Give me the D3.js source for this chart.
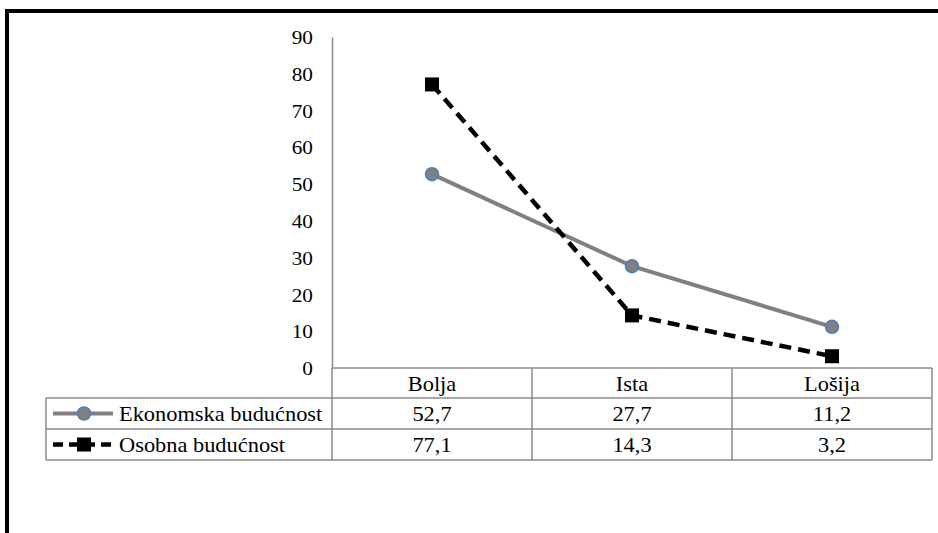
<!DOCTYPE html>
<html><head><meta charset="utf-8">
<script src="https://cdn.jsdelivr.net/npm/d3@7"></script>
<style>html,body{margin:0;padding:0;background:#fff;overflow:hidden}
text{font-family:"Liberation Serif","LiberationSerif","Nimbus Roman","Nimbus Roman No9 L","FreeSerif","Tinos","Times New Roman",Times,"DejaVu Serif","Noto Serif",serif;}</style>
</head><body>
<svg id="c" width="938" height="533"></svg>
<script>
const categories = ["Bolja", "Ista", "Lošija"];
const seriesNames = ["Ekonomska budućnost", "Osobna budućnost"];
const ekonomska = [52.7, 27.7, 11.2];
const osobna = [77.1, 14.3, 3.2];
const valueLabels = [["52,7", "27,7", "11,2"], ["77,1", "14,3", "3,2"]];
const yTicks = [0, 10, 20, 30, 40, 50, 60, 70, 80, 90];

const svg = d3.select("#c");
const gridCol = "#8a8a8a";

// outer frame
svg.append("rect").attr("x", 7).attr("y", 11).attr("width", 1000).attr("height", 600)
  .attr("fill", "none").attr("stroke", "#000").attr("stroke-width", 4);

const x0 = 332, x1 = 932;
const x = d3.scaleBand().domain(categories).range([x0, x1]);
const y = d3.scaleLinear().domain([0, 90]).range([368, 37]);

function stext(g, txt, tx, ty, size, anchor, sx) {
  g.append("text").attr("transform", `translate(${tx},${ty}) scale(${sx},1)`)
    .attr("text-anchor", anchor).attr("dominant-baseline", "central")
    .attr("font-size", size).attr("fill", "#000").text(txt);
}

// y axis
const yAxis = d3.axisLeft(y).tickValues(yTicks).tickSize(0).tickPadding(0);
const ga = svg.append("g").attr("transform", `translate(${x0},0)`).call(yAxis);
ga.select(".domain").attr("stroke", gridCol).attr("stroke-width", 1.5);
ga.selectAll(".tick text").remove();
ga.selectAll(".tick").each(function(d) {
  stext(d3.select(this), String(d), -19, 0, 19, "end", 1.12);
});

// table grid
const rows = [368, 398, 429, 460];
const tleft = 46;
const g = svg.append("g").attr("stroke", gridCol).attr("stroke-width", 1.5).attr("fill", "none");
g.append("line").attr("x1", x0).attr("x2", x1).attr("y1", rows[0]).attr("y2", rows[0]);
[1, 2, 3].forEach(i => g.append("line").attr("x1", tleft).attr("x2", x1).attr("y1", rows[i]).attr("y2", rows[i]));
g.append("line").attr("x1", tleft).attr("x2", tleft).attr("y1", rows[1]).attr("y2", rows[3]);
categories.forEach(c => {
  g.append("line").attr("x1", x(c)).attr("x2", x(c)).attr("y1", rows[0]).attr("y2", rows[3]);
});
g.append("line").attr("x1", x1).attr("x2", x1).attr("y1", rows[0]).attr("y2", rows[3]);

// header labels
categories.forEach(c => stext(svg, c, x(c) + x.bandwidth() / 2, (rows[0] + rows[1]) / 2 + 1, 20, "middle", 1.12));
// values
valueLabels.forEach((r, i) => r.forEach((v, j) =>
  stext(svg, v, x(categories[j]) + x.bandwidth() / 2, (rows[i + 1] + rows[i + 2]) / 2 + 1, 20, "middle", 1.12)));
// legend names
seriesNames.forEach((n, i) => stext(svg, n, 119, (rows[i + 1] + rows[i + 2]) / 2 + 1, 20, "start", 1.12));

const cx = c => x(c) + x.bandwidth() / 2;
const line = d3.line().x((d, i) => cx(categories[i])).y(d => y(d));

// Ekonomska
svg.append("path").datum(ekonomska).attr("d", line).attr("fill", "none")
  .attr("stroke", "#808080").attr("stroke-width", 4);
svg.selectAll(".pe").data(ekonomska).enter().append("circle")
  .attr("cx", (d, i) => cx(categories[i])).attr("cy", d => y(d)).attr("r", 6.5)
  .attr("fill", "#808080").attr("stroke", "#4a7ebb").attr("stroke-width", 1.5);

// Osobna
svg.append("path").datum(osobna).attr("d", line).attr("fill", "none")
  .attr("stroke", "#000").attr("stroke-width", 4.5).attr("stroke-dasharray", "12,7");
svg.selectAll(".po").data(osobna).enter().append("rect")
  .attr("x", (d, i) => cx(categories[i]) - 7).attr("y", d => y(d) - 7)
  .attr("width", 14).attr("height", 14).attr("fill", "#000");

// legend keys
const ly1 = (rows[1] + rows[2]) / 2, ly2 = (rows[2] + rows[3]) / 2;
svg.append("line").attr("x1", 53).attr("x2", 113).attr("y1", ly1).attr("y2", ly1)
  .attr("stroke", "#808080").attr("stroke-width", 4);
svg.append("circle").attr("cx", 84).attr("cy", ly1).attr("r", 6.5)
  .attr("fill", "#808080").attr("stroke", "#4a7ebb").attr("stroke-width", 1.5);
svg.append("line").attr("x1", 53).attr("x2", 113).attr("y1", ly2).attr("y2", ly2)
  .attr("stroke", "#000").attr("stroke-width", 4.5).attr("stroke-dasharray", "10,6");
svg.append("rect").attr("x", 77).attr("y", ly2 - 7).attr("width", 14).attr("height", 14).attr("fill", "#000");
</script>
</body></html>
